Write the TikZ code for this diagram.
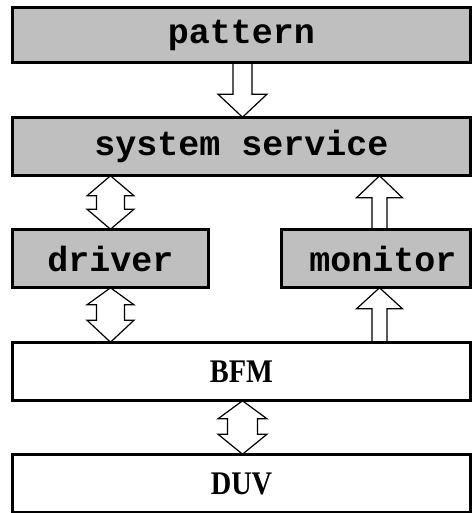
\documentclass[tikz,border=0pt]{standalone}
\usepackage{fontspec}
\usepackage{graphicx}
\setmainfont{Liberation Serif}
\newfontfamily\boxmono{Liberation Mono}
\usetikzlibrary{calc}

\tikzset{
  unitbox/.style={draw=black, line width=1.6pt, minimum height=57pt, inner sep=0pt},
  shadedbox/.style={unitbox, fill=black!25, font=\boxmono\bfseries\fontsize{35}{40}\selectfont},
  plainbox/.style={unitbox, fill=white, font=\bfseries\fontsize{33}{38}\selectfont},
  blk/.style={draw=black, fill=white, line width=1.2pt, line join=miter}
}

% narrow the serif labels a little
\newcommand\narrow[1]{\scalebox{0.86}[1]{#1}}

% single block arrow: tail, tip, shaft half width, head half width, head length
\newcommand\blockarrow[5]{%
  \draw[blk] let \p1=(#1), \p2=(#2), \n1={sign(\y2-\y1)} in
    (\x1-#3,\y1) -- (\x1-#3,\y2-\n1*#5) -- (\x1-#4,\y2-\n1*#5) -- (\x1,\y2)
    -- (\x1+#4,\y2-\n1*#5) -- (\x1+#3,\y2-\n1*#5) -- (\x1+#3,\y1) -- cycle;}

% double block arrow: upper tip, lower tip, shaft half width, head half width,
% upper head length, lower head length
\newcommand\dblarrow[6]{%
  \draw[blk] let \p1=(#1), \p2=(#2) in
    (\x1,\y1) -- (\x1+#4,\y1-#5) -- (\x1+#3,\y1-#5) -- (\x1+#3,\y2+#6)
    -- (\x1+#4,\y2+#6) -- (\x1,\y2) -- (\x1-#4,\y2+#6) -- (\x1-#3,\y2+#6)
    -- (\x1-#3,\y1-#5) -- (\x1-#4,\y1-#5) -- cycle;}

\begin{document}
\begin{tikzpicture}[x=1pt, y=1pt]
  \useasboundingbox (0,0) rectangle (471,-513);
  \fill[white] (0,0) rectangle (471,-513);

  % layers
  \node[shadedbox, minimum width=457pt, minimum height=54pt] (pattern) at (241.5,-35) {pattern};
  \node[shadedbox, minimum width=457pt] (service) at (241.5,-146.5) {system service};
  \node[shadedbox, minimum width=195pt] (driver) at (110.5,-258.5) {driver};
  \node[shadedbox, minimum width=188pt] (monitor) at (376,-258.5) {\kern14pt monitor};
  \node[plainbox, minimum width=457pt] (bfm) at (241.5,-371.5) {\narrow{BFM}};
  \node[plainbox, minimum width=457pt] (duv) at (241.5,-483.5) {\narrow{DUV}};

  % connections between layers
  \coordinate (p1) at ($(pattern.south)+(1,0)$);
  \coordinate (p2) at ($(service.north)+(1,0)$);
  \blockarrow{p1}{p2}{9.5pt}{24.5pt}{23pt}

  \coordinate (s1) at (service.south -| driver.north);
  \dblarrow{s1}{driver.north}{14pt}{23.5pt}{20pt}{20pt}

  \coordinate (m1) at ($(monitor.north)+(3.5,0)$);
  \coordinate (m2) at (service.south -| m1);
  \blockarrow{m1}{m2}{7.5pt}{23pt}{22pt}

  \coordinate (d1) at (bfm.north -| driver.south);
  \dblarrow{driver.south}{d1}{14pt}{23.5pt}{17pt}{22pt}

  \coordinate (b1) at (bfm.north -| m1);
  \coordinate (b2) at (monitor.south -| m1);
  \blockarrow{b1}{b2}{7.5pt}{23pt}{21pt}

  \coordinate (u1) at ($(bfm.south)+(1,0)$);
  \coordinate (u2) at ($(duv.north)+(1,0)$);
  \dblarrow{u1}{u2}{15pt}{24.5pt}{18pt}{20pt}

  % redraw box outlines over the arrow ends
  \foreach \n in {pattern,service,driver,monitor,bfm,duv}
    \draw[line width=1.6pt] (\n.south west) rectangle (\n.north east);
\end{tikzpicture}
\end{document}
